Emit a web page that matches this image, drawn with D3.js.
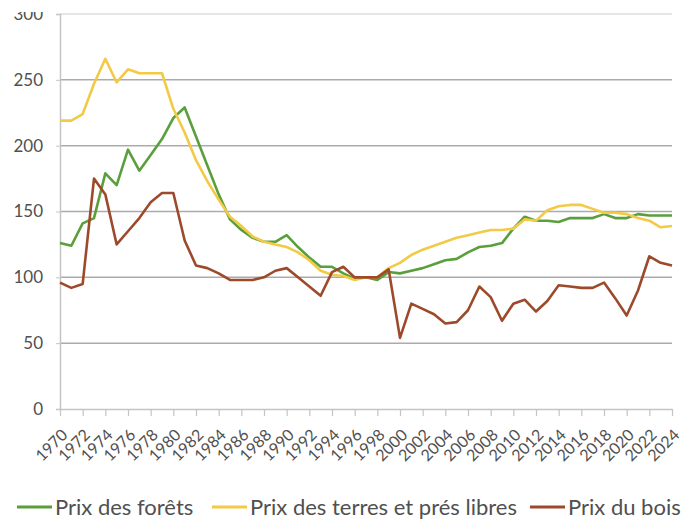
<!DOCTYPE html>
<html>
<head>
<meta charset="utf-8">
<script src="https://cdn.jsdelivr.net/npm/d3@7"></script>
<style>
  body { margin: 0; background: #fff; }
  text { font-family: Lato, "Open Sans", sans-serif; fill: #505050; }
</style>
</head>
<body>
<div id="chart"></div>
<script>
  // values, one per year 1970..2024
  const years = d3.range(1970, 2025);

  const prixForets = [
    126, 124, 141, 145, 179, 170, 197, 181, 193, 205,
    221, 229, 207, 185, 163, 144, 136, 130, 127, 127,
    132, 123, 115, 108, 108, 103, 99, 100, 98, 104,
    103, 105, 107, 110, 113, 114, 119, 123, 124, 126,
    137, 146, 143, 143, 142, 145, 145, 145, 148, 145,
    145, 148, 147, 147, 147
  ];

  const prixTerres = [
    219, 219, 224, 247, 266, 248, 258, 255, 255, 255,
    228, 210, 189, 173, 159, 146, 139, 131, 127, 125,
    123, 119, 113, 105, 102, 101, 98, 100, 100, 107,
    111, 117, 121, 124, 127, 130, 132, 134, 136, 136,
    137, 144, 143, 151, 154, 155, 155, 152, 149, 149,
    148, 145, 143, 138, 139
  ];

  const prixBois = [
    96, 92, 95, 175, 163, 125, 135, 145, 157, 164,
    164, 128, 109, 107, 103, 98, 98, 98, 100, 105,
    107, 100, 93, 86, 104, 108, 100, 100, 100, 106,
    54, 80, 76, 72, 65, 66, 75, 93, 85, 67,
    80, 83, 74, 82, 94, 93, 92, 92, 96, 84,
    71, 90, 116, 111, 109
  ];

  const yTicks = [0, 50, 100, 150, 200, 250, 300];

  const series = [
    { name: "Prix des forêts", values: prixForets, color: "#5a9f3c" },
    { name: "Prix des terres et prés libres", values: prixTerres, color: "#f2ca45" },
    { name: "Prix du bois", values: prixBois, color: "#9c4a2b" }
  ];

  const width = 683, height = 520;
  const margin = { top: 14, right: 11, bottom: 111, left: 60 };

  const svg = d3.select("#chart").append("svg")
      .attr("width", width)
      .attr("height", height);

  const x = d3.scalePoint()
      .domain(years)
      .range([margin.left, width - margin.right]);

  const y = d3.scaleLinear()
      .domain([0, 300])
      .range([height - margin.bottom, margin.top]);

  // horizontal grid
  svg.append("g")
      .selectAll("line")
      .data(yTicks.filter(d => d > 0))
      .enter().append("line")
      .attr("x1", margin.left)
      .attr("x2", width - margin.right)
      .attr("y1", d => y(d))
      .attr("y2", d => y(d))
      .attr("stroke", d => d === 300 ? "#dcdcdc" : "#ababab")
      .attr("stroke-width", 1.5);

  // y axis
  const yAxis = svg.append("g")
      .attr("transform", `translate(${margin.left},0)`)
      .call(d3.axisLeft(y).tickValues(yTicks).tickSize(4).tickPadding(13));
  yAxis.select(".domain").attr("stroke", "#c4c4c4").attr("stroke-width", 1.5);
  yAxis.selectAll(".tick line").attr("stroke", "#c4c4c4");
  yAxis.selectAll("text")
      .style("font-size", "17px")
      .attr("fill", "#505050");

  // x axis, labels turned -45deg with their end at the tick
  const xAxis = svg.append("g")
      .attr("transform", `translate(0,${y(0)})`)
      .call(d3.axisBottom(x)
        .tickValues(years.filter(d => (d - 1970) % 2 === 0))
        .tickSize(7)
        .tickSizeOuter(0));
  xAxis.select(".domain").attr("stroke", "#c4c4c4").attr("stroke-width", 1.5);
  xAxis.selectAll(".tick line").attr("stroke", "#c4c4c4").attr("stroke-width", 1.2);
  xAxis.selectAll("text")
      .style("font-size", "16px")
      .attr("fill", "#505050")
      .attr("text-anchor", "end")
      .attr("x", 0)
      .attr("y", 0)
      .attr("dy", "0.35em")
      .attr("transform", "translate(4,23) rotate(-45)");

  // white band so the top label is cut like in the source picture
  svg.append("rect")
      .attr("x", 0).attr("y", 0)
      .attr("width", margin.left - 5).attr("height", 12)
      .attr("fill", "#fff");

  // lines
  const line = d3.line()
      .x((d, i) => x(years[i]))
      .y(d => y(d));

  series.forEach(s => {
    svg.append("path")
        .datum(s.values)
        .attr("fill", "none")
        .attr("stroke", s.color)
        .attr("stroke-width", 2.6)
        .attr("stroke-linejoin", "round")
        .attr("d", line);
  });

  // legend
  const legendX = [17, 212, 530];
  const legend = svg.append("g").attr("transform", "translate(0,507)");
  series.forEach((s, i) => {
    const g = legend.append("g").attr("transform", `translate(${legendX[i]},0)`);
    g.append("line")
        .attr("x1", 0).attr("x2", 35)
        .attr("stroke", s.color)
        .attr("stroke-width", 3);
    g.append("text")
        .attr("x", 38)
        .attr("dy", "0.35em")
        .style("font-size", "22px")
        .text(s.name);
  });
</script>
</body>
</html>
